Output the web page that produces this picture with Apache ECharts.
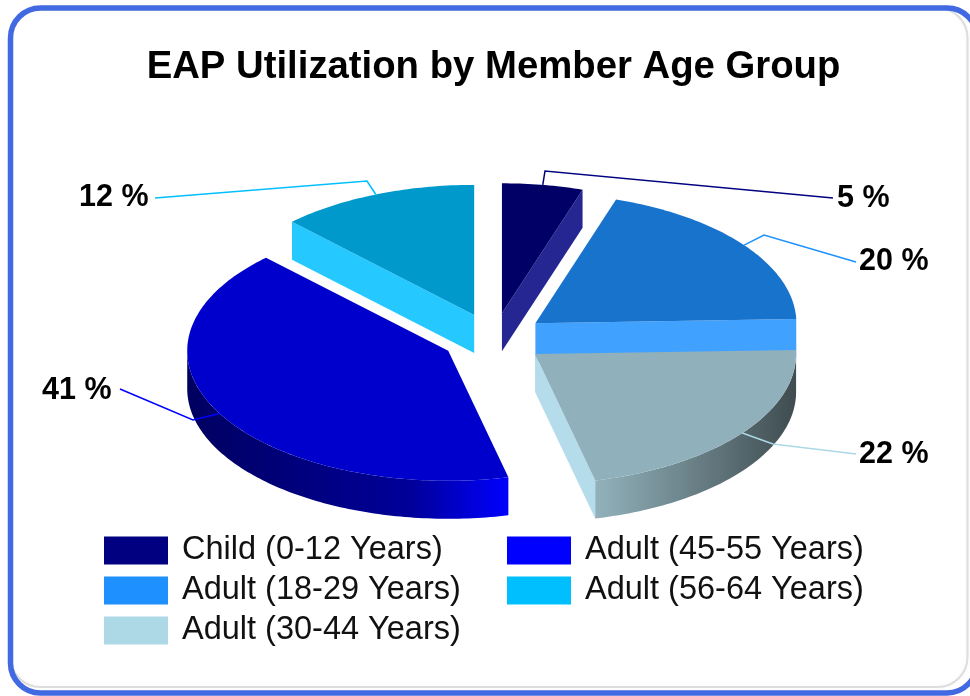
<!DOCTYPE html>
<html lang="en">
<head>
  <meta charset="UTF-8">
  <title>EAP Utilization</title>
  <script src="https://cdn.jsdelivr.net/npm/echarts@6/dist/echarts.min.js"></script>
  <style type="text/css">
    html, body { margin: 0; padding: 0; background: #fff; overflow: hidden; }
    #main { width: 970px; height: 696px; }
  </style>
</head>
<body>
<div id="main"></div>
<script type="text/javascript">
// values (labels show them rounded)
var categories = ['Child (0-12 Years)', 'Adult (18-29 Years)', 'Adult (30-44 Years)', 'Adult (45-55 Years)', 'Adult (56-64 Years)'];
var values = [5.0, 19.5, 21.8, 41.4, 12.3];

var baseColors = ['#000080', '#1e90ff', '#add8e6', '#0000ff', '#00bfff'];
var topColors = ['#000066', '#1873cc', '#90b0bc', '#0000cc', '#0099cc'];
var cutColors = ['#262693', '#40a1ff', '#b5dcea', '#2626ff', '#26c9ff'];
var rimStops = [
  ['#000066', '#000066'],
  ['#1873cc', '#1873cc'],
  ['#92b2bb', '#3f4c50'],
  ['#000060', '#0000ff'],
  ['#0099cc', '#0099cc']
];

// pie geometry in pixels
var cx = 493.8, cy = 338.5, rx = 261, ry = 130, depth = 38;
var explodeX = 52, explodeY = 25.5;

// leader lines: bend point, end point, label position
var bends = [[545, 171], [764, 235], [773, 444], [193, 420], [367, 181]];
var lineEnds = [[833, 198], [856, 262], [856, 454], [120, 389], [155, 198]];
var labelSpots = [[837, 199], [859, 262], [859, 455], [42, 391], [79, 198]];

var total = values.reduce(function (a, b) { return a + b; }, 0);
var starts = [];
var sum = 0;
values.forEach(function (v) {
  starts.push(sum / total * Math.PI * 2);
  sum += v;
});

function rimPoint(o, angle, drop) {
  return [o[0] + rx * Math.sin(angle), o[1] - ry * Math.cos(angle) + (drop || 0)];
}

function arcPoints(o, a, b, drop) {
  var pts = [];
  var n = Math.max(2, Math.ceil((b - a) / (Math.PI / 180)));
  for (var i = 0; i <= n; i++) {
    pts.push(rimPoint(o, a + (b - a) * i / n, drop));
  }
  return pts;
}

function cutFace(o, angle, color) {
  var r = rimPoint(o, angle);
  return {
    type: 'polygon',
    shape: { points: [o, r, [r[0], r[1] + depth], [o[0], o[1] + depth]] },
    style: { fill: color }
  };
}

function sliceItem(i) {
  var a = starts[i];
  var b = a + values[i] / total * Math.PI * 2;
  var mid = (a + b) / 2;
  var o = [cx + explodeX * Math.sin(mid), cy - explodeY * Math.cos(mid)];
  var kids = [];

  if (Math.sin(a) < -0.01) kids.push(cutFace(o, a, cutColors[i]));
  if (Math.sin(b) > 0.01) kids.push(cutFace(o, b, cutColors[i]));

  // outer wall, only the front half of the ellipse shows
  var wa = Math.max(a, Math.PI / 2), wb = Math.min(b, Math.PI * 1.5);
  if (wb > wa) {
    var wall = arcPoints(o, wa, wb, 0).concat(arcPoints(o, wa, wb, depth).reverse());
    kids.push({
      type: 'polygon',
      shape: { points: wall },
      style: {
        fill: new echarts.graphic.LinearGradient(i == 3 ? 1 : 0, 0, i == 3 ? 0 : 1, 0,
          i == 3
            ? [{ offset: 0, color: rimStops[i][1] }, { offset: 0.3, color: '#00009a' }, { offset: 1, color: rimStops[i][0] }]
            : [{ offset: 0, color: rimStops[i][0] }, { offset: 1, color: rimStops[i][1] }])
      }
    });
  }

  kids.push({
    type: 'polygon',
    shape: { points: [o].concat(arcPoints(o, a, b, 0)) },
    style: { fill: topColors[i] }
  });

  kids.push({
    type: 'polyline',
    shape: { points: [rimPoint(o, mid), bends[i], lineEnds[i]] },
    style: { stroke: baseColors[i], lineWidth: 1.5, fill: 'none' }
  });

  kids.push({
    type: 'text',
    x: labelSpots[i][0],
    y: labelSpots[i][1],
    style: {
      text: Math.round(values[i]) + ' %',
      fill: '#000',
      font: 'bold 30.5px "Liberation Sans", Arial, sans-serif',
      verticalAlign: 'middle'
    }
  });

  return { type: 'group', children: kids };
}

var myChart = echarts.init(document.getElementById('main'));

var legendText = {
  fontSize: 32.5,
  padding: [0, 0, 0, 9],
  color: '#111',
  fontFamily: '"Liberation Sans", Arial, sans-serif'
};

var option = {
  animation: false,
  backgroundColor: '#fff',
  title: {
    text: 'EAP Utilization by Member Age Group',
    left: 488.5,
    top: 43,
    textAlign: 'center',
    textStyle: { fontSize: 38.3, fontWeight: 'bold', color: '#000', fontFamily: '"Liberation Sans", Arial, sans-serif' }
  },
  legend: [
    {
      data: categories.slice(0, 3),
      orient: 'vertical',
      left: 104,
      top: 534,
      icon: 'rect',
      itemWidth: 64,
      itemHeight: 28,
      itemGap: 7,
      padding: 0,
      textStyle: legendText
    },
    {
      data: categories.slice(3),
      orient: 'vertical',
      left: 507,
      top: 534,
      icon: 'rect',
      itemWidth: 64,
      itemHeight: 28,
      itemGap: 7,
      padding: 0,
      textStyle: legendText
    }
  ],
  graphic: [
    {
      type: 'rect',
      z: -2,
      shape: { x: 10.5, y: 8, width: 957, height: 679, r: 30 },
      style: { fill: 'none', stroke: 'rgba(150,150,150,0.3)', lineWidth: 2, shadowBlur: 4, shadowColor: 'rgba(150,150,150,0.3)' }
    },
    {
      type: 'rect',
      z: -1,
      shape: { x: 10.5, y: 8, width: 966.5, height: 685, r: 30 },
      style: { fill: 'none', stroke: '#4169e1', lineWidth: 5.5 }
    }
  ],
  series: categories.map(function (name, i) {
    return {
      type: 'custom',
      name: name,
      coordinateSystem: 'none',
      silent: true,
      itemStyle: { color: baseColors[i] },
      data: [values[i]],
      renderItem: function () { return sliceItem(i); }
    };
  })
};
myChart.setOption(option);
</script>
</body>
</html>
